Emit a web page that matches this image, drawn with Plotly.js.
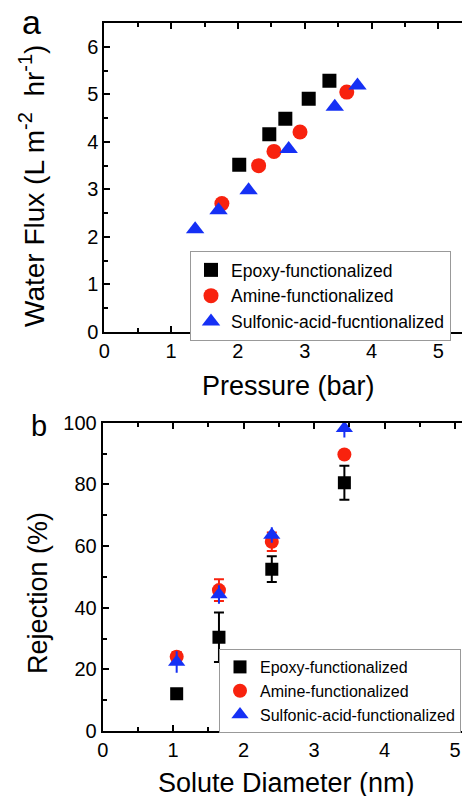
<!DOCTYPE html>
<html>
<head>
<meta charset="utf-8">
<script src="https://cdn.plot.ly/plotly-3.0.1.min.js"></script>
<style>html,body{margin:0;padding:0;background:#fff;}#chart{width:462px;height:796px;}</style>
</head>
<body>
<div id="chart"></div>
<script>
// ---- Panel a: water flux vs pressure ----
const seriesNames = ["Epoxy-functionalized", "Amine-functionalized", "Sulfonic-acid-fucntionalized"];
const seriesNamesB = ["Epoxy-functionalized", "Amine-functionalized", "Sulfonic-acid-functionalized"];

const epoxyPressure = [2.02, 2.47, 2.71, 3.06, 3.37];
const epoxyFlux     = [3.52, 4.16, 4.49, 4.91, 5.29];
const aminePressure = [1.76, 2.31, 2.54, 2.93, 3.63];
const amineFlux     = [2.70, 3.50, 3.80, 4.21, 5.05];
const sulfPressure  = [1.36, 1.71, 2.16, 2.76, 3.45, 3.79];
const sulfFlux      = [2.16, 2.56, 2.98, 3.85, 4.74, 5.19];

// ---- Panel b: rejection vs solute diameter ----
const soluteDiameter = [1.05, 1.65, 2.40, 3.43];
const epoxyRejection = [12.1, 30.4, 52.5, 80.5];
const epoxyRejErr    = [1.0, 8.0, 4.2, 5.5];
const amineRejection = [24.1, 45.7, 61.4, 89.7];
const amineRejErr    = [1.5, 3.5, 3.0, 1.0];
const sulfRejection  = [22.4, 44.3, 63.6, 98.2];
const sulfRejErr     = [3.5, 3.0, 2.5, 3.0];

const BLACK = "#000000", RED = "#f8220e", BLUE = "#1530f5";
const W = 462, H = 796;
const px = v => v / W;
const py = v => 1 - v / H;
const FONT = "Liberation Sans, Arial, sans-serif";

const traces = [
  {x: epoxyPressure, y: epoxyFlux, name: seriesNames[0], type: "scatter", mode: "markers",
   marker: {symbol: "square", size: 14, color: BLACK}, xaxis: "x", yaxis: "y", legend: "legend"},
  {x: aminePressure, y: amineFlux, name: seriesNames[1], type: "scatter", mode: "markers",
   marker: {symbol: "circle", size: 15, color: RED}, xaxis: "x", yaxis: "y", legend: "legend"},
  {x: sulfPressure, y: sulfFlux, name: seriesNames[2], type: "scatter", mode: "markers",
   marker: {symbol: "triangle-up", size: 16, color: BLUE}, xaxis: "x", yaxis: "y", legend: "legend"},

  {x: soluteDiameter, y: epoxyRejection, name: seriesNamesB[0], type: "scatter", mode: "markers",
   error_y: {type: "data", array: epoxyRejErr, visible: true, color: BLACK, thickness: 2, width: 5},
   marker: {symbol: "square", size: 13, color: BLACK}, xaxis: "x2", yaxis: "y2", legend: "legend2"},
  {x: soluteDiameter, y: amineRejection, name: seriesNamesB[1], type: "scatter", mode: "markers",
   error_y: {type: "data", array: amineRejErr, visible: true, color: RED, thickness: 2, width: 5},
   marker: {symbol: "circle", size: 14, color: RED}, xaxis: "x2", yaxis: "y2", legend: "legend2"},
  {x: soluteDiameter, y: sulfRejection, name: seriesNamesB[2], type: "scatter", mode: "markers",
   error_y: {type: "data", array: sulfRejErr, visible: true, color: BLUE, thickness: 2, width: 0},
   marker: {symbol: "triangle-up", size: 15, color: BLUE}, xaxis: "x2", yaxis: "y2", legend: "legend2"}
];

function axisBase() {
  return {
    showgrid: false, zeroline: false, showline: true, linecolor: "#000", linewidth: 2,
    ticks: "inside", ticklen: 6, tickwidth: 2, tickcolor: "#000",
    tickfont: {family: FONT, size: 20, color: "#000"},
    minor: {ticks: "inside", ticklen: 4, tickwidth: 2, tickcolor: "#000"},
    fixedrange: true
  };
}

const xa = Object.assign(axisBase(), {domain: [px(104.3), 1], range: [0, (462 - 104.3) / 66.8],
  dtick: 1, tick0: 0, mirror: "ticks", anchor: "y"});
xa.minor.dtick = 0.5;
const ya = Object.assign(axisBase(), {domain: [py(331.7), py(23.3)], range: [0, 6.5],
  dtick: 1, tick0: 0, anchor: "x"});
ya.minor.dtick = 0.5;
const xb = Object.assign(axisBase(), {domain: [px(102.7), 1], range: [0, (462 - 102.7) / 70.46],
  dtick: 1, tick0: 0, mirror: "ticks", anchor: "y2"});
xb.minor.dtick = 0.5;
const yb = Object.assign(axisBase(), {domain: [py(731), py(422.7)], range: [0, 100],
  dtick: 20, tick0: 0, anchor: "x2"});
yb.minor.dtick = 10;

const SUP = s => "<sup><span style='font-size:20px'>" + s + "</span></sup>";

const layout = {
  width: W, height: H,
  margin: {l: 0, r: 0, t: 0, b: 0},
  paper_bgcolor: "#fff", plot_bgcolor: "#fff",
  font: {family: FONT, color: "#000"},
  xaxis: xa, yaxis: ya, xaxis2: xb, yaxis2: yb,
  legend: {x: px(190), y: py(251), xanchor: "left", yanchor: "top",
    bgcolor: "#fff", bordercolor: "#999", borderwidth: 1,
    font: {family: FONT, size: 17.5, color: "#000"}, tracegroupgap: 0, itemwidth: 30},
  legend2: {x: px(219), y: py(649), xanchor: "left", yanchor: "top",
    bgcolor: "#fff", bordercolor: "#999", borderwidth: 1,
    font: {family: FONT, size: 16, color: "#000"}, tracegroupgap: 0, itemwidth: 30},
  annotations: [
    {text: "a", x: px(31), y: py(22), xref: "paper", yref: "paper", showarrow: false,
     xanchor: "center", yanchor: "middle", font: {family: FONT, size: 34, color: "#000"}},
    {text: "b", x: px(39), y: py(426), xref: "paper", yref: "paper", showarrow: false,
     xanchor: "center", yanchor: "middle", font: {family: FONT, size: 29, color: "#000"}},
    {text: "Pressure (bar)", x: px(288), y: py(386), xref: "paper", yref: "paper", showarrow: false,
     xanchor: "center", yanchor: "middle", font: {family: FONT, size: 27, color: "#000"}},
    {text: "Water Flux (L m" + SUP("-2") + "&#160; hr" + SUP("-1") + ")", x: px(32), y: py(186),
     xref: "paper", yref: "paper", showarrow: false, textangle: -90, xanchor: "center", yanchor: "middle",
     font: {family: FONT, size: 28, color: "#000"}},
    {text: "Solute Diameter (nm)", x: px(286), y: py(783), xref: "paper", yref: "paper", showarrow: false,
     xanchor: "center", yanchor: "middle", font: {family: FONT, size: 27, color: "#000"}},
    {text: "Rejection (%)", x: px(38), y: py(593), xref: "paper", yref: "paper", showarrow: false,
     textangle: -90, xanchor: "center", yanchor: "middle", font: {family: FONT, size: 27, color: "#000"}}
  ],
  showlegend: true
};

Plotly.newPlot("chart", traces, layout, {displayModeBar: false, staticPlot: true});
</script>
</body>
</html>
